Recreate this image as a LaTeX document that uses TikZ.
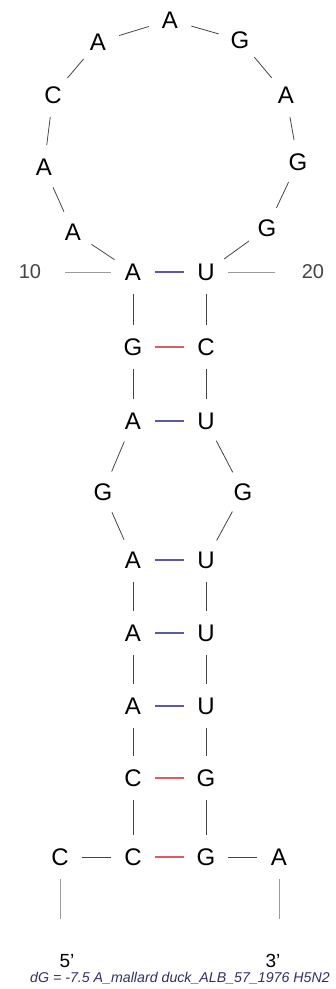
\documentclass[tikz,border=0pt]{standalone}
\usepackage{fontspec}
\setmainfont{Liberation Sans}
\usepackage{xcolor}
\usetikzlibrary{calc}
\definecolor{bbgray}{HTML}{444444}
\definecolor{tickgray}{HTML}{9A9A9A}
\definecolor{aublue}{HTML}{5A5AA6}
\definecolor{gcred}{HTML}{E05A66}
\definecolor{dgnavy}{HTML}{303064}

\begin{document}
\begin{tikzpicture}[
    x=1pt, y=-1pt,
    base/.style={circle, inner sep=0pt, minimum size=44pt, font=\fontsize{24}{24}\selectfont},
    bb/.style={draw=bbgray, line width=0.8pt},
    tick/.style={draw=tickgray, line width=0.8pt},
    au/.style={draw=aublue, line width=1.3pt},
    gc/.style={draw=gcred, line width=1.3pt},
    endlbl/.style={font=\fontsize{19}{19}\selectfont, inner sep=0pt}
]
\useasboundingbox (0,0) rectangle (336,989);

% Hairpin loop
\node[base] (n10) at (133,272) {A};
\node[base] (n11) at (73,232) {A};
\node[base] (n12) at (44,167) {A};
\node[base] (n13) at (53,95) {C};
\node[base] (n14) at (98,42) {A};
\node[base] (n15) at (170,20) {A};
\node[base] (n16) at (240,40) {G};
\node[base] (n17) at (286,95) {A};
\node[base] (n18) at (298,162) {G};
\node[base] (n19) at (267,228) {G};
\node[base] (n20) at (206,272) {U};

% Left strand
\node[base] (n9) at (133,347) {G};
\node[base] (n8) at (133,421) {A};
\node[base] (n7) at (103,492) {G};
\node[base] (n6) at (133,560) {A};
\node[base] (n5) at (133,633) {A};
\node[base] (n4) at (133,706) {A};
\node[base] (n3) at (133,778) {C};
\node[base] (n2) at (133,857) {C};
\node[base] (n1) at (60,857) {C};

% Right strand
\node[base] (n21) at (206,347) {C};
\node[base] (n22) at (206,421) {U};
\node[base] (n23) at (243,492) {G};
\node[base] (n24) at (206,560) {U};
\node[base] (n25) at (206,633) {U};
\node[base] (n26) at (206,706) {U};
\node[base] (n27) at (206,778) {G};
\node[base] (n28) at (206,857) {G};
\node[base] (n29) at (279,857) {A};

% Backbone
\foreach \i [evaluate=\i as \j using int(\i+1)] in {1,...,28}
    \draw[bb] (n\i) -- (n\j);

% Base pairs
\draw[au] (n10) -- (n20);
\draw[gc] (n9) -- (n21);
\draw[au] (n8) -- (n22);
\draw[au] (n6) -- (n24);
\draw[au] (n5) -- (n25);
\draw[au] (n4) -- (n26);
\draw[gc] (n3) -- (n27);
\draw[gc] (n2) -- (n28);

% Numbering
\node[font=\fontsize{20}{20}\selectfont, text=bbgray] (lbl10) at (30,272) {10};
\node[font=\fontsize{20}{20}\selectfont, text=bbgray] (lbl20) at (313,272) {20};
\coordinate (t10) at (65,272);
\coordinate (t20) at (275,272);
\draw[tick] (n10) -- (t10);
\draw[tick] (n20) -- (t20);

% Ends
\coordinate (e5) at (60,919);
\coordinate (e3) at (279,919);
\draw[tick] (n1) -- (e5);
\draw[tick] (n29) -- (e3);
\node[font=\fontsize{14.2}{14.2}\selectfont\itshape, text=dgnavy] (dg) at (180,978) {dG = -7.5 A\_mallard duck\_ALB\_57\_1976 H5N2};
\node[endlbl] (p5) at (67,961) {5'};
\node[endlbl] (p3) at (273,961) {3'};
\end{tikzpicture}
\end{document}
